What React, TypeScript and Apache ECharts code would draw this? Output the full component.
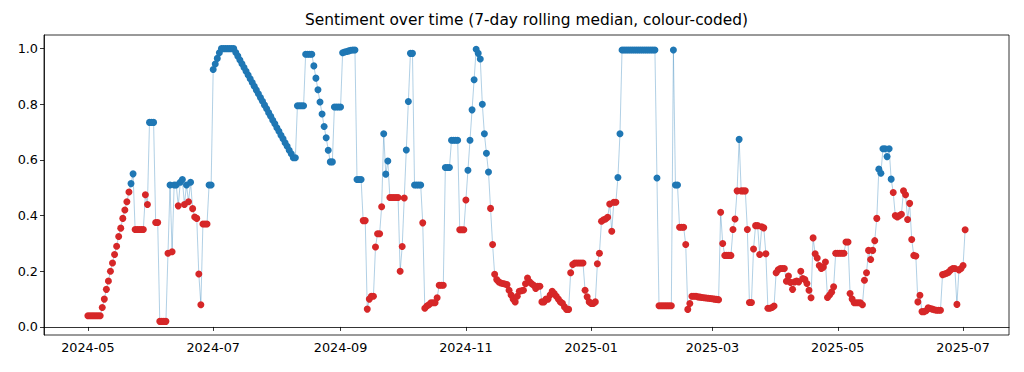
import React, { useEffect, useRef } from "react";
import * as echarts from "echarts";

// One value per day, grouped by month (7-day rolling median of sentiment)
const may2024 = [0.04, 0.04, 0.04, 0.04, 0.04, 0.04, 0.04, 0.07, 0.1, 0.135, 0.165, 0.2, 0.23, 0.26, 0.29, 0.325, 0.355, 0.39, 0.42, 0.45, 0.485, 0.515, 0.55, 0.35, 0.35, 0.35, 0.35, 0.35, 0.475, 0.44, 0.735];
const jun2024 = [0.735, 0.735, 0.375, 0.375, 0.02, 0.02, 0.02, 0.02, 0.265, 0.51, 0.27, 0.51, 0.51, 0.435, 0.52, 0.53, 0.44, 0.51, 0.45, 0.52, 0.425, 0.395, 0.39, 0.19, 0.08, 0.37, 0.37, 0.37, 0.51, 0.51];
const jul2024 = [0.925, 0.945, 0.965, 0.985, 1.0, 1.0, 1.0, 1.0, 1.0, 1.0, 1.0, 0.986, 0.973, 0.959, 0.946, 0.932, 0.919, 0.905, 0.892, 0.878, 0.865, 0.851, 0.838, 0.824, 0.811, 0.797, 0.784, 0.77, 0.757, 0.743, 0.73];
const aug2024 = [0.716, 0.703, 0.689, 0.676, 0.662, 0.649, 0.635, 0.622, 0.608, 0.608, 0.795, 0.795, 0.795, 0.795, 0.98, 0.98, 0.98, 0.98, 0.938, 0.894, 0.852, 0.808, 0.765, 0.72, 0.68, 0.635, 0.593, 0.593, 0.79, 0.79, 0.79];
const sep2024 = [0.79, 0.985, 0.988, 0.99, 0.992, 0.994, 0.995, 0.995, 0.53, 0.53, 0.53, 0.382, 0.382, 0.064, 0.1, 0.11, 0.11, 0.287, 0.335, 0.335, 0.432, 0.694, 0.549, 0.596, 0.465, 0.465, 0.465, 0.465, 0.465, 0.2];
const oct2024 = [0.289, 0.463, 0.636, 0.81, 0.983, 0.983, 0.51, 0.51, 0.51, 0.51, 0.374, 0.067, 0.075, 0.08, 0.087, 0.087, 0.087, 0.105, 0.15, 0.15, 0.15, 0.573, 0.573, 0.573, 0.671, 0.671, 0.671, 0.671, 0.349, 0.349, 0.349];
const nov2024 = [0.456, 0.563, 0.671, 0.78, 0.888, 0.998, 0.983, 0.963, 0.8, 0.694, 0.624, 0.557, 0.426, 0.296, 0.189, 0.17, 0.162, 0.158, 0.156, 0.154, 0.152, 0.132, 0.115, 0.1, 0.09, 0.11, 0.128, 0.13, 0.132, 0.155];
const dec2024 = [0.176, 0.162, 0.155, 0.15, 0.138, 0.146, 0.146, 0.09, 0.09, 0.1, 0.1, 0.115, 0.128, 0.12, 0.11, 0.1, 0.09, 0.085, 0.072, 0.063, 0.063, 0.195, 0.224, 0.23, 0.23, 0.23, 0.23, 0.23, 0.132, 0.108, 0.09];
const jan2025 = [0.084, 0.084, 0.09, 0.227, 0.265, 0.38, 0.385, 0.388, 0.394, 0.442, 0.344, 0.448, 0.448, 0.537, 0.694, 0.995, 0.995, 0.995, 0.995, 0.995, 0.995, 0.995, 0.995, 0.995, 0.995, 0.995, 0.995, 0.995, 0.995, 0.995, 0.995];
const feb2025 = [0.995, 0.535, 0.076, 0.076, 0.076, 0.076, 0.076, 0.076, 0.076, 0.995, 0.51, 0.51, 0.358, 0.358, 0.358, 0.296, 0.063, 0.084, 0.11, 0.11, 0.11, 0.108, 0.107, 0.106, 0.105, 0.104, 0.103, 0.102];
const mar2025 = [0.101, 0.1, 0.099, 0.098, 0.412, 0.3, 0.257, 0.257, 0.257, 0.257, 0.35, 0.388, 0.489, 0.674, 0.489, 0.489, 0.489, 0.35, 0.088, 0.088, 0.28, 0.364, 0.364, 0.26, 0.36, 0.356, 0.263, 0.067, 0.067, 0.07, 0.075];
const apr2025 = [0.195, 0.205, 0.21, 0.21, 0.21, 0.164, 0.183, 0.16, 0.135, 0.162, 0.165, 0.162, 0.2, 0.174, 0.17, 0.156, 0.132, 0.105, 0.32, 0.263, 0.248, 0.221, 0.21, 0.215, 0.233, 0.106, 0.115, 0.125, 0.144, 0.265];
const may2025 = [0.265, 0.265, 0.265, 0.265, 0.305, 0.305, 0.12, 0.1, 0.087, 0.087, 0.087, 0.087, 0.08, 0.168, 0.195, 0.275, 0.242, 0.275, 0.31, 0.39, 0.567, 0.552, 0.64, 0.64, 0.612, 0.64, 0.531, 0.483, 0.4, 0.395, 0.4];
const jun2025 = [0.405, 0.489, 0.475, 0.386, 0.444, 0.314, 0.257, 0.255, 0.09, 0.114, 0.055, 0.055, 0.058, 0.069, 0.066, 0.064, 0.062, 0.06, 0.06, 0.06, 0.188, 0.19, 0.193, 0.197, 0.205, 0.21, 0.21, 0.081, 0.205, 0.21];
const jul2025 = [0.221, 0.349];

const MONTHS: [number, number, number[]][] = [
  [2024, 5, may2024], [2024, 6, jun2024], [2024, 7, jul2024], [2024, 8, aug2024],
  [2024, 9, sep2024], [2024, 10, oct2024], [2024, 11, nov2024], [2024, 12, dec2024],
  [2025, 1, jan2025], [2025, 2, feb2025], [2025, 3, mar2025], [2025, 4, apr2025],
  [2025, 5, may2025], [2025, 6, jun2025], [2025, 7, jul2025],
];

const X_TICKS = ["2024-05", "2024-07", "2024-09", "2024-11", "2025-01", "2025-03", "2025-05", "2025-07"];
const Y_TICKS = [0, 0.2, 0.4, 0.6, 0.8, 1.0];
const TITLE = "Sentiment over time (7-day rolling median, colour-coded)";

export default function App() {
  const ref = useRef<HTMLDivElement>(null);
  useEffect(() => {
    if (!ref.current) return;
    const chart = echarts.init(ref.current, null, { renderer: "svg" });
    const data: [number, number][] = [];
    MONTHS.forEach(([y, m, vals]) => {
      vals.forEach((v, i) => data.push([Date.UTC(y, m - 1, i + 1), v]));
    });
    const first = data[0][0];
    const last = data[data.length - 1][0];
    const span = last - first;
    const xTicks = X_TICKS.map((s) => {
      const [yy, mm] = s.split("-").map(Number);
      return Date.UTC(yy, mm - 1, 1);
    });
    const font = "DejaVu Sans";
    chart.setOption({
      animation: false,
      backgroundColor: "#ffffff",
      title: {
        text: TITLE,
        left: (44 + 1009) / 2,
        textAlign: "center",
        top: 12,
        padding: 0,
        textStyle: { fontFamily: font, fontSize: 15.4, fontWeight: "normal", color: "#000" },
      },
      grid: { left: 44, right: 15, top: 35, bottom: 37, show: true, borderColor: "#000", borderWidth: 0.8, backgroundColor: "transparent" },
      xAxis: {
        type: "value",
        min: first - span * 0.05,
        max: last + span * 0.05,
        splitLine: { show: false },
        axisLine: { show: true, lineStyle: { color: "#000", width: 0.8 } },
        axisTick: { show: true, length: 4, lineStyle: { color: "#000", width: 0.8 }, customValues: xTicks },
        axisLabel: {
          customValues: xTicks,
          margin: 6,
          color: "#000",
          fontFamily: font,
          fontSize: 12.8,
          formatter: (val: number) => {
            const d = new Date(val);
            return `${d.getUTCFullYear()}-${String(d.getUTCMonth() + 1).padStart(2, "0")}`;
          },
        },
      },
      yAxis: {
        type: "value",
        min: -0.029,
        max: 1.049,
        splitLine: { show: false },
        axisLine: { show: true, lineStyle: { color: "#000", width: 0.8 } },
        axisTick: { show: true, length: 4, lineStyle: { color: "#000", width: 0.8 }, customValues: Y_TICKS },
        axisLabel: {
          customValues: Y_TICKS,
          margin: 6,
          color: "#000",
          fontFamily: font,
          fontSize: 12.8,
          formatter: (v: number) => v.toFixed(1),
        },
      },
      series: [
        {
          type: "line",
          data,
          showSymbol: true,
          showAllSymbol: true,
          symbol: "circle",
          symbolSize: 7,
          lineStyle: { color: "rgba(31,119,180,0.35)", width: 1 },
          itemStyle: {
            color: (p: any) => (p.value[1] >= 0.5 ? "#1f77b4" : "#d62728"),
          },
          emphasis: { disabled: true },
        },
      ],
    });
    return () => chart.dispose();
  }, []);
  return <div ref={ref} style={{ position: "fixed", left: 0, top: 0, width: 1024, height: 372 }} />;
}
